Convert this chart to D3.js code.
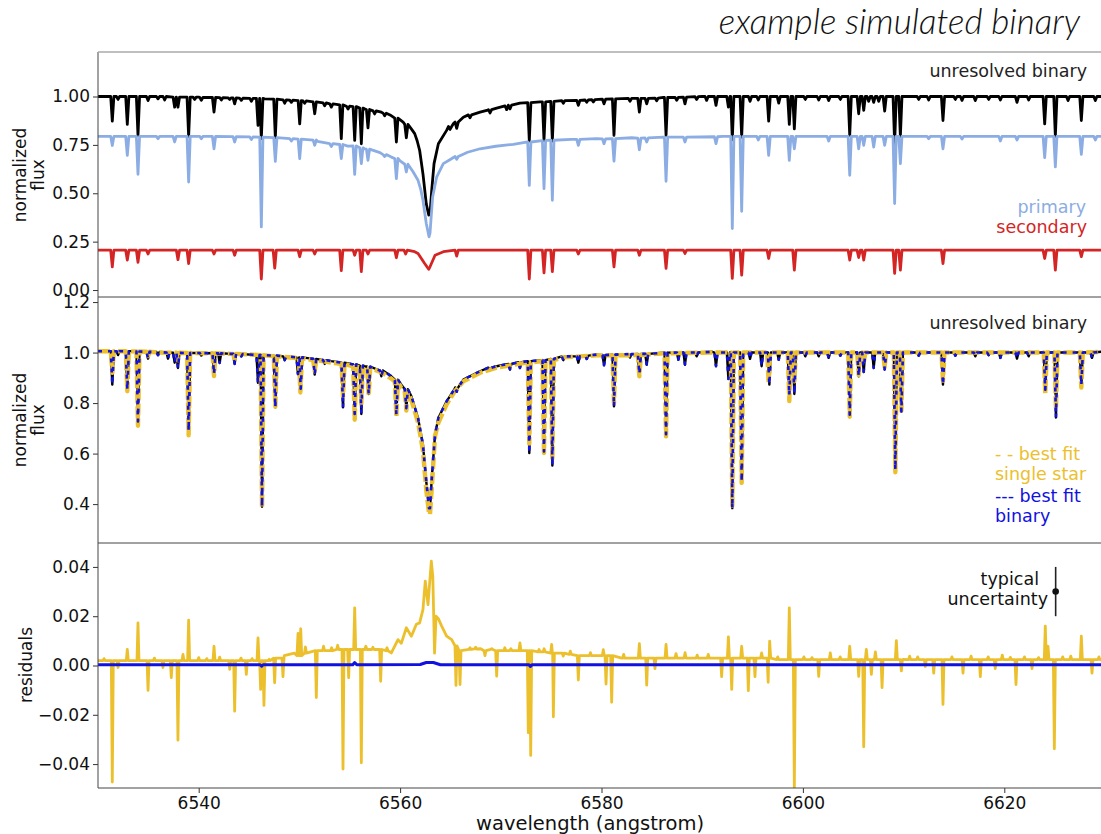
<!DOCTYPE html>
<html>
<head>
<meta charset="utf-8">
<script src="https://cdn.jsdelivr.net/npm/d3@7"></script>
<style>
  body { margin: 0; background: #fff; }
  text { font-family: "DejaVu Sans", sans-serif; }
  .tick text { font-size: 17px; fill: #111; }
  .tick line { stroke: #333; }
  .domain { stroke: none; }
</style>
</head>
<body>
<svg id="chart" width="1101" height="834"></svg>
<script>
// ---- data ------------------------------------------------------------------
// smooth parts: [wavelength, flux]; lines: [wavelength, flux beside line, flux at line bottom]
var blackCont = [[6530,1.0],[6536,1.0],[6540,0.997],[6544,0.992],[6546.55,0.988],[6549.86,0.979],[6553.17,0.962],[6554.8,0.95],[6556.48,0.936],[6557.3,0.928],[6558.14,0.919],[6559.0,0.905],[6559.79,0.885],[6560.3,0.868],[6560.78,0.851],[6561.15,0.83],[6561.45,0.808],[6561.7,0.77],[6561.94,0.722],[6562.27,0.60],[6562.6,0.445],[6562.85,0.387],[6562.97,0.395],[6563.14,0.515],[6563.37,0.653],[6563.8,0.756],[6564.62,0.825],[6565.3,0.86],[6566.28,0.893],[6567.0,0.906],[6567.94,0.919],[6568.7,0.93],[6569.59,0.94],[6570.6,0.953],[6571.9,0.966],[6573.9,0.972],[6576.21,0.979],[6578.5,0.983],[6581.2,0.988],[6586.14,0.996],[6590,1.0],[6630,1.0]];
var blackLines = [[6531.42,1.0,0.873],[6531.99,1.0,0.985],[6532.91,1.0,0.856],[6533.97,1.0,0.799],[6534.97,1.0,0.979],[6535.96,1.0,0.988],[6536.62,1.0,0.982],[6537.61,0.997,0.945],[6537.94,0.997,0.945],[6539.0,0.997,0.794],[6539.6,0.997,0.985],[6540.26,0.996,0.98],[6541.52,0.995,0.919],[6542.25,0.994,0.982],[6543.08,0.993,0.985],[6543.57,0.993,0.962],[6544.23,0.991,0.98],[6545.23,0.99,0.975],[6545.89,0.99,0.851],[6546.22,0.99,0.782],[6547.61,0.986,0.787],[6548.54,0.983,0.965],[6549.2,0.981,0.97],[6550.03,0.979,0.859],[6550.52,0.977,0.965],[6551.52,0.972,0.911],[6552.51,0.967,0.952],[6553.17,0.962,0.945],[6554.16,0.957,0.782],[6554.83,0.95,0.935],[6555.49,0.948,0.773],[6556.15,0.94,0.756],[6556.81,0.933,0.838],[6557.47,0.926,0.91],[6558.47,0.914,0.9],[6559.63,0.888,0.765],[6560.62,0.856,0.787],
  [6564.96,0.845,0.83],[6565.62,0.868,0.835],[6566.94,0.905,0.89],[6568.93,0.932,0.915],[6570.58,0.952,0.932],[6570.91,0.955,0.936],[6572.83,0.968,0.77],[6574.29,0.972,0.773],[6575.12,0.975,0.77],[6576.21,0.979,0.965],[6577.7,0.98,0.954],[6578.53,0.982,0.97],[6579.19,0.984,0.972],[6580.25,0.986,0.962],[6581.24,0.988,0.799],[6582.83,0.99,0.975],[6583.76,0.99,0.919],[6584.49,0.99,0.962],[6585.48,0.992,0.978],[6586.41,0.995,0.799],[6587.47,0.996,0.98],[6588.29,0.997,0.962],[6589.45,0.999,0.985],[6590.44,1.0,0.98],[6591.37,1.0,0.954],[6592.6,1.0,0.945],[6592.99,1.0,0.777],[6593.92,1.0,0.79],[6594.75,1.0,0.975],[6595.57,1.0,0.982],
  [6596.6,1.0,0.873],[6597.6,1.0,0.966],[6598.65,1.0,0.856],[6599.15,1.0,0.833],[6600.24,1.0,0.985],[6601.57,1.0,0.982],[6602.56,1.0,0.979],[6603.72,1.0,0.985],[6604.65,1.0,0.799],[6605.54,1.0,0.911],[6606.04,1.0,0.928],[6606.53,1.0,0.975],[6607.03,1.0,0.97],[6607.53,1.0,0.975],[6608.12,1.0,0.925],[6609.11,1.0,0.756],[6609.68,1.0,0.794],[6611.5,1.0,0.985],[6612.49,1.0,0.982],[6613.91,1.0,0.876],[6615.14,1.0,0.985],[6615.8,1.0,0.98],[6617.12,1.0,0.979],[6618.45,1.0,0.985],[6619.61,1.0,0.982],[6621.26,1.0,0.97],[6622.42,1.0,0.982],[6624.01,1.0,0.859],[6625.07,1.0,0.794],[6626.33,1.0,0.979],[6627.65,1.0,0.876],[6629.04,1.0,0.979]];

var primCont = [[6530,0.794],[6540,0.794],[6546,0.79],[6550,0.78],[6551.8,0.768],[6553.17,0.756],[6554.8,0.744],[6556.48,0.73],[6558.0,0.71],[6559.13,0.687],[6560.0,0.667],[6560.78,0.644],[6561.3,0.61],[6561.78,0.567],[6562.05,0.52],[6562.27,0.464],[6562.6,0.344],[6562.87,0.275],[6562.97,0.294],[6563.23,0.481],[6563.63,0.584],[6564.29,0.653],[6564.9,0.672],[6565.62,0.69],[6566.7,0.712],[6567.94,0.73],[6569.5,0.743],[6571.25,0.753],[6573,0.764],[6574.56,0.773],[6577,0.778],[6579.5,0.782],[6583,0.787],[6586.14,0.79],[6592,0.794],[6630,0.794]];
var primLines = [[6531.42,0.794,0.747],[6532.91,0.794,0.696],[6533.97,0.794,0.598],[6535.96,0.794,0.782],[6537.61,0.794,0.765],[6539.0,0.794,0.558],[6540.26,0.794,0.782],[6541.52,0.794,0.73],[6543.57,0.793,0.765],[6545.23,0.791,0.778],[6546.22,0.79,0.326],[6547.61,0.788,0.665],[6549.2,0.782,0.77],[6550.03,0.78,0.679],[6551.52,0.775,0.748],[6553.17,0.756,0.742],[6554.16,0.752,0.679],[6555.49,0.745,0.598],[6556.15,0.735,0.653],[6556.81,0.728,0.67],[6558.47,0.7,0.69],[6559.63,0.68,0.576],[6560.62,0.65,0.61],
  [6565.62,0.69,0.675],[6572.83,0.765,0.541],[6574.29,0.772,0.524],[6575.12,0.774,0.464],[6577.7,0.778,0.748],[6580.25,0.781,0.756],[6581.24,0.782,0.666],[6583.76,0.785,0.725],[6584.49,0.786,0.765],[6586.41,0.79,0.562],[6588.29,0.79,0.765],[6591.37,0.792,0.756],[6592.99,0.794,0.318],[6593.92,0.794,0.407],[6595.57,0.794,0.775],
  [6596.6,0.794,0.696],[6598.65,0.794,0.67],[6599.15,0.794,0.73],[6602.56,0.794,0.77],[6604.65,0.794,0.593],[6605.54,0.794,0.73],[6606.04,0.794,0.748],[6607.03,0.794,0.739],[6608.12,0.794,0.748],[6609.11,0.794,0.447],[6609.68,0.794,0.653],[6612.49,0.794,0.782],[6613.91,0.794,0.73],[6615.8,0.794,0.78],[6619.61,0.794,0.77],[6621.26,0.794,0.775],[6624.01,0.794,0.684],[6625.07,0.794,0.636],[6627.65,0.794,0.701],[6629.04,0.794,0.775]];

var secCont = [[6530,0.206],[6560,0.206],[6561.45,0.198],[6561.78,0.189],[6562.44,0.137],[6562.84,0.107],[6562.97,0.12],[6563.47,0.18],[6564.3,0.198],[6566,0.206],[6630,0.206]];
var secLines = [[6531.42,0.206,0.12],[6532.91,0.206,0.155],[6533.97,0.206,0.143],[6534.97,0.206,0.186],[6537.94,0.206,0.157],[6539.0,0.206,0.137],[6541.52,0.206,0.186],[6543.57,0.206,0.18],[6546.22,0.206,0.057],[6547.55,0.206,0.113],[6550.03,0.206,0.172],[6551.52,0.206,0.186],[6554.16,0.206,0.1],[6555.49,0.206,0.18],[6556.15,0.206,0.095],[6556.81,0.206,0.186],[6559.63,0.206,0.167],[6560.55,0.206,0.186],
  [6565.62,0.206,0.175],[6572.83,0.206,0.057],[6574.29,0.206,0.089],[6575.12,0.206,0.095],[6577.7,0.206,0.186],[6581.24,0.206,0.12],[6583.76,0.206,0.18],[6586.41,0.206,0.112],[6588.29,0.206,0.189],[6592.99,0.206,0.06],[6593.92,0.206,0.077],
  [6596.6,0.206,0.163],[6599.15,0.206,0.103],[6604.65,0.206,0.155],[6605.54,0.206,0.168],[6606.04,0.206,0.155],[6609.11,0.206,0.086],[6609.68,0.206,0.103],[6613.91,0.206,0.137],[6624.01,0.206,0.163],[6625.07,0.206,0.103],[6627.65,0.206,0.172]];

// middle panel: observed (also best fit binary) and best fit single star
var midCont = [[6530,1.005],[6536,1.0],[6543.24,0.995],[6549.86,0.981],[6553.17,0.966],[6556.48,0.946],[6558.14,0.929],[6559.13,0.906],[6560.12,0.873],[6561.12,0.827],[6561.78,0.741],[6562.27,0.635],[6562.6,0.489],[6562.87,0.384],[6562.97,0.384],[6563.14,0.5],[6563.47,0.675],[6563.8,0.741],[6564.62,0.807],[6565.4,0.855],[6566.28,0.893],[6567.94,0.926],[6569.59,0.946],[6572.9,0.966],[6576.21,0.985],[6579.52,0.992],[6586.14,0.999],[6591,1.003],[6630,1.005]];
var midLines = [[6531.42,1.005,0.873],[6531.99,1.005,0.99],[6532.91,1.005,0.853],[6533.97,1.004,0.727],[6534.97,1.003,0.976],[6535.96,1.002,0.99],[6536.95,1.0,0.976],[6537.61,0.999,0.96],[6537.94,0.999,0.939],[6539.0,0.998,0.69],[6540.26,0.998,0.988],[6541.52,0.997,0.915],[6542.08,0.997,0.959],[6543.57,0.995,0.955],[6544.23,0.994,0.985],[6545.89,0.99,0.88],[6546.29,0.99,0.39],[6547.61,0.988,0.783],[6548.54,0.985,0.97],[6549.86,0.981,0.915],[6550.13,0.981,0.857],[6551.52,0.975,0.913],[6552.51,0.97,0.955],[6554.33,0.96,0.783],[6555.49,0.953,0.757],[6556.15,0.948,0.757],[6556.88,0.944,0.836],[6558.14,0.929,0.906],[6559.63,0.893,0.754],[6560.62,0.855,0.78],
  [6565.62,0.862,0.845],[6568.93,0.94,0.93],[6570.91,0.955,0.933],[6571.9,0.962,0.939],[6572.83,0.966,0.602],[6574.29,0.97,0.608],[6575.12,0.975,0.553],[6576.21,0.985,0.97],[6577.7,0.985,0.96],[6578.53,0.988,0.975],[6580.25,0.99,0.95],[6581.24,0.992,0.787],[6582.83,0.994,0.98],[6583.76,0.995,0.915],[6584.49,0.995,0.952],[6586.41,0.999,0.677],[6587.63,1.0,0.972],[6588.29,1.0,0.952],[6589.45,1.0,0.985],[6591.37,1.0,0.946],[6592.6,1.0,0.896],[6592.99,1.0,0.384],[6593.92,1.0,0.489],[6594.75,1.0,0.975],[6595.9,1.0,0.946],
  [6596.67,1.0,0.873],[6597.6,1.0,0.972],[6598.65,1.0,0.831],[6599.15,1.0,0.836],[6600.24,1.0,0.985],[6601.57,1.0,0.985],[6602.56,1.0,0.979],[6603.72,1.0,0.988],[6604.65,1.0,0.754],[6605.54,1.0,0.906],[6606.04,1.0,0.923],[6607.03,1.0,0.939],[6608.12,1.0,0.933],[6609.18,1.0,0.536],[6609.78,1.0,0.767],[6611.5,1.0,0.988],[6613.91,1.0,0.873],[6615.14,1.0,0.988],[6617.12,1.0,0.985],[6618.45,1.0,0.99],[6619.61,1.0,0.979],[6621.26,1.0,0.976],[6622.42,1.0,0.985],[6624.07,1.0,0.853],[6625.13,1.0,0.743],[6627.65,1.0,0.873],[6628.71,1.0,0.979]];
var singleCont = [[6530,1.005],[6536,1.0],[6543.24,0.995],[6549.86,0.978],[6553.17,0.96],[6556.48,0.94],[6558.14,0.922],[6559.13,0.897],[6560.12,0.86],[6561.12,0.812],[6561.78,0.724],[6562.27,0.612],[6562.6,0.455],[6562.87,0.364],[6562.97,0.36],[6563.14,0.46],[6563.47,0.67],[6563.8,0.722],[6564.62,0.795],[6565.4,0.845],[6566.28,0.886],[6567.94,0.92],[6569.59,0.94],[6572.9,0.961],[6576.21,0.981],[6579.52,0.989],[6586.14,0.997],[6591,1.0],[6630,1.003]];
var singleLines = [[6531.42,1.005,0.92],[6532.91,1.005,0.847],[6533.97,1.004,0.71],[6534.97,1.003,0.986],[6537.94,0.999,0.969],[6539.0,0.998,0.672],[6541.52,0.997,0.907],[6543.57,0.995,0.974],[6546.29,0.99,0.385],[6547.61,0.985,0.786],[6550.1,0.978,0.842],[6551.52,0.97,0.926],[6554.33,0.955,0.825],[6555.49,0.945,0.734],[6556.15,0.942,0.797],[6556.88,0.938,0.83],[6559.63,0.885,0.745],[6560.62,0.845,0.77],
  [6572.83,0.961,0.638],[6574.29,0.966,0.602],[6575.12,0.97,0.574],[6581.24,0.989,0.8],[6583.76,0.99,0.906],[6586.41,0.997,0.668],[6592.99,1.0,0.394],[6593.92,1.0,0.484],
  [6596.6,1.0,0.88],[6598.65,1.0,0.808],[6599.15,1.0,0.886],[6604.65,1.0,0.746],[6605.54,1.0,0.911],[6606.04,1.0,0.956],[6608.12,1.0,0.942],[6609.18,1.0,0.526],[6609.78,1.0,0.77],[6613.91,1.0,0.889],[6624.07,1.0,0.837],[6625.13,1.0,0.777],[6627.65,1.0,0.861]];

// residuals
var resSingleCont = [[6530,0.002],[6540,0.002],[6542,0.0025],[6546,0.002],[6548.5,0.004],[6549.5,0.005],[6552,0.006],[6554,0.0065],[6558,0.0065],[6559.13,0.0051],[6559.79,0.0105],[6560.12,0.009],[6560.62,0.0153],[6561.12,0.0119],[6561.61,0.0167],[6561.94,0.0173],[6562.27,0.0227],[6562.5,0.0342],[6562.77,0.0247],[6563.1,0.0423],[6563.25,0.036],[6563.42,0.005],[6563.57,0.02],[6563.8,0.019],[6564.13,0.016],[6564.62,0.0119],[6565.12,0.0105],[6566,0.006],[6567,0.0065],[6568,0.0068],[6570,0.006],[6572,0.006],[6575,0.005],[6578,0.004],[6582,0.003],[6587,0.003],[6592,0.0035],[6600,0.0025],[6610,0.0025],[6620,0.0025],[6630,0.002]];
var resSingleSpikes = [[6530.6,0.002,0.0028],[6531.42,0.002,-0.0473],[6531.99,0.002,-0.0008],[6532.91,0.002,0.0065],[6533.97,0.002,0.0173],[6534.97,0.002,-0.0101],[6535.6,0.002,0.003],[6536.45,0.002,-0.0008],[6537.28,0.002,-0.0049],[6537.94,0.002,-0.0303],[6538.44,0.002,0.0045],[6539.0,0.002,0.0184],[6540.0,0.002,0.0032],[6540.8,0.002,0.0028],[6541.52,0.002,0.0078],[6542.08,0.002,0.0034],[6543.08,0.002,-0.0016],[6543.57,0.002,-0.0185],[6544.2,0.002,0.003],[6544.73,0.002,-0.0036],[6545.3,0.002,0.0028],[6545.89,0.002,0.0112],[6546.15,0.002,-0.0097],[6546.48,0.002,-0.0162],[6547.0,0.002,0.0025],[6547.54,0.003,-0.007],[6548.37,0.003,-0.0045],[6549.86,0.004,0.013],[6550.13,0.004,0.0149],[6550.6,0.005,0.0075],[6551.68,0.006,-0.013],[6552.4,0.006,0.0078],[6553.2,0.006,0.0072],[6553.8,0.0065,0.0082],[6554.33,0.0065,-0.042],[6554.89,0.0065,-0.005],[6555.49,0.0065,0.0234],[6556.15,0.0065,-0.0395],[6556.6,0.0065,0.0078],[6557.3,0.0065,0.0074],[6558.07,0.0065,-0.0064],[6558.7,0.006,0.0072],
  [6565.55,0.008,-0.0081],[6565.95,0.006,-0.0077],[6566.94,0.0065,0.0072],[6567.5,0.0067,0.0074],[6568.43,0.006,0.004],[6569.1,0.0065,0.0068],[6569.59,0.006,-0.0043],[6570.4,0.006,0.0072],[6571.0,0.006,0.0068],[6571.9,0.006,0.0092],[6572.73,0.006,-0.0273],[6572.97,0.006,-0.0365],[6573.8,0.0055,0.0065],[6574.3,0.0055,0.0068],[6575.05,0.005,0.0086],[6575.22,0.005,-0.0208],[6576.2,0.005,0.0038],[6576.9,0.0045,0.0058],[6577.7,0.004,-0.0059],[6578.9,0.004,0.0052],[6580.18,0.004,0.0064],[6580.45,0.004,-0.0075],[6581.01,0.004,-0.0149],[6582.2,0.003,0.0045],[6583.76,0.003,0.0089],[6584.49,0.003,-0.008],[6585.31,0.003,-0.0013],[6586.41,0.003,0.0086],[6587.4,0.003,0.0048],[6588.3,0.003,0.0052],[6589.5,0.003,0.0042],[6590.6,0.003,0.0045],[6591.93,0.003,-0.0045],[6592.6,0.003,0.0116],[6592.93,0.003,-0.0097],[6593.92,0.003,0.0078],[6594.58,0.003,-0.0102],[6595.24,0.003,-0.0045],[6595.9,0.003,0.0051],
  [6596.55,0.003,-0.0068],[6596.7,0.003,0.0099],[6597.5,0.0024,0.0035],[6598.65,0.0024,0.0234],[6599.15,0.0024,-0.0495],[6600.1,0.0024,0.0035],[6600.9,0.0024,0.0032],[6601.57,0.0024,-0.0044],[6602.72,0.0024,0.0051],[6603.7,0.0024,0.0035],[6604.65,0.0024,0.0078],[6605.54,0.0024,-0.0044],[6606.04,0.0024,-0.033],[6606.3,0.0024,0.0065],[6606.8,0.0024,-0.0036],[6607.2,0.0024,0.0055],[6607.86,0.0024,-0.009],[6609.28,0.0024,0.0101],[6609.78,0.0024,-0.0022],[6610.6,0.0024,0.0038],[6611.4,0.0024,0.0035],[6612.16,0.0024,-0.0004],[6612.99,0.0024,-0.0031],[6613.91,0.0024,-0.0158],[6614.8,0.0024,0.0035],[6615.9,0.0024,-0.0031],[6616.7,0.0024,0.0038],[6617.62,0.0024,-0.0045],[6618.4,0.0024,0.0035],[6619.1,0.0024,-0.0013],[6619.8,0.0024,0.0042],[6620.6,0.0024,0.0033],[6621.16,0.0024,-0.0077],[6622.0,0.0024,0.0035],[6622.75,0.0024,-0.0013],[6623.4,0.0024,0.0032],[6624.07,0.0024,0.016],[6624.34,0.0024,0.0078],[6624.97,0.0024,-0.0338],[6625.8,0.0024,0.0035],[6626.6,0.0024,0.0038],[6627.65,0.0024,0.0119],[6628.71,0.0024,-0.0031],[6629.4,0.0024,0.0035]];
var resBinary = [[6530,0.0003],[6546.1,0.0003],[6546.25,-0.0003],[6546.4,0.0003],[6555.3,0.0003],[6555.49,0.0012],[6555.7,0.0003],[6562.0,0.0004],[6562.6,0.0012],[6563.3,0.0012],[6564,0.0003],[6572.8,0.0003],[6572.95,-0.0004],[6573.1,0.0003],[6630,0.0003]];

var uncertainty = {wl: 6625.1, value: 0.03, err: 0.01};

var yTicksTop = [0, 0.25, 0.5, 0.75, 1.0];
var yTicksMid = [0.4, 0.6, 0.8, 1.0, 1.2];
var yTicksRes = [-0.04, -0.02, 0, 0.02, 0.04];
var xTicks = [6540, 6560, 6580, 6600, 6620];

// ---- drawing ----------------------------------------------------------------
var svg = d3.select("#chart");
var x = d3.scaleLinear().domain([6530, 6630]).range([98, 1105]);

var panels = [
  {top: 52, bottom: 297, domain: [-0.036, 1.23], ticks: yTicksTop, fmt: ".2f"},
  {top: 297, bottom: 543, domain: [0.246, 1.22], ticks: yTicksMid, fmt: ".1f"},
  {top: 543, bottom: 788, domain: [-0.0497, 0.0497], ticks: yTicksRes, fmt: ".2f"}
];

panels.forEach(function(p, i) {
  p.y = d3.scaleLinear().domain(p.domain).range([p.bottom, p.top]);
  svg.append("clipPath").attr("id", "clip" + i)
    .append("rect").attr("x", 98).attr("y", p.top).attr("width", 1010).attr("height", p.bottom - p.top);
  p.g = svg.append("g").attr("clip-path", "url(#clip" + i + ")");
  svg.append("g")
    .attr("transform", "translate(98,0)")
    .call(d3.axisLeft(p.y).tickValues(p.ticks).tickFormat(d3.format(p.fmt)).tickSize(5).tickPadding(3));
});

// merge smooth points and absorption lines into one sorted polyline
function spectrum(cont, lines, hw) {
  var pts = [];
  lines.forEach(function(l) {
    pts.push([l[0] - hw, l[1]], [l[0], l[2]], [l[0] + hw, l[1]]);
  });
  cont.forEach(function(c) {
    if (!lines.some(function(l) { return Math.abs(l[0] - c[0]) < hw * 1.3; })) pts.push(c);
  });
  return pts.sort(function(a, b) { return a[0] - b[0]; });
}

function draw(p, pts, color, width, dash) {
  var line = d3.line().x(function(d) { return x(d[0]); }).y(function(d) { return p.y(d[1]); });
  p.g.append("path").datum(pts)
    .attr("d", line)
    .attr("fill", "none")
    .attr("stroke", color)
    .attr("stroke-width", width)
    .attr("stroke-linejoin", "round")
    .attr("stroke-dasharray", dash || null);
}

var cBlack = "#000", cPrim = "#8badE3", cSec = "#d42424", cYel = "#ecc02c", cBlue = "#1111e0";

// top panel
draw(panels[0], spectrum(blackCont, blackLines, 0.16), cBlack, 2.8);
draw(panels[0], spectrum(primCont, primLines, 0.16), cPrim, 2.8);
draw(panels[0], spectrum(secCont, secLines, 0.16), cSec, 2.8);

// middle panel
draw(panels[1], spectrum(midCont, midLines, 0.15), cBlack, 2.4);
draw(panels[1], spectrum(singleCont, singleLines, 0.15), cYel, 4.4, "12,3");
draw(panels[1], spectrum(midCont, midLines, 0.15), cBlue, 2.6, "4,6");

// residual panel
draw(panels[2], spectrum(resSingleCont, resSingleSpikes, 0.1), cYel, 2.8);
draw(panels[2], resBinary, cBlue, 3);

var pr = panels[2];
svg.append("line")
  .attr("x1", x(uncertainty.wl)).attr("x2", x(uncertainty.wl))
  .attr("y1", pr.y(uncertainty.value + uncertainty.err)).attr("y2", pr.y(uncertainty.value - uncertainty.err))
  .attr("stroke", "#222").attr("stroke-width", 1.6);
svg.append("circle")
  .attr("cx", x(uncertainty.wl)).attr("cy", pr.y(uncertainty.value)).attr("r", 3.3).attr("fill", "#111");

// x axis
svg.append("g")
  .attr("transform", "translate(0,788)")
  .call(d3.axisBottom(x).tickValues(xTicks).tickFormat(d3.format("d")).tickSize(5).tickPadding(4));

// frames
panels.forEach(function(p, i) {
  svg.append("line").attr("x1", 98).attr("x2", 98).attr("y1", p.top).attr("y2", p.bottom)
    .attr("stroke", "#444").attr("stroke-width", 1);
  svg.append("line").attr("x1", 98).attr("x2", 1101).attr("y1", p.bottom).attr("y2", p.bottom)
    .attr("stroke", "#444").attr("stroke-width", 1);
});
svg.append("line").attr("x1", 98).attr("x2", 1101).attr("y1", 52).attr("y2", 52)
  .attr("stroke", "#aaa").attr("stroke-width", 1.5);

// labels
function txt(t, xx, yy, anchor, color, size, extra) {
  var s = svg.append("text").attr("x", xx).attr("y", yy).attr("text-anchor", anchor)
    .attr("fill", color).attr("font-size", size).text(t);
  if (extra) extra(s);
  return s;
}
txt("example simulated binary", 1080, 34, "end", "#111", 35, function(s) {
  s.style("font-family", "Lato, sans-serif").style("font-style", "italic").style("font-weight", 300);
});
txt("unresolved binary", 1087, 77, "end", "#222", 17.5);
txt("primary", 1086, 213, "end", cPrim, 17.5);
txt("secondary", 1087, 233, "end", cSec, 17.5);
txt("unresolved binary", 1087, 329, "end", "#222", 17.5);
txt("- - best fit", 995, 460, "start", cYel, 17.5);
txt("single star", 995, 480, "start", cYel, 17.5);
txt("--- best fit", 995, 502, "start", cBlue, 17.5);
txt("binary", 995, 522, "start", cBlue, 17.5);
txt("typical", 1039, 585, "end", "#111", 17.5);
txt("uncertainty", 1048, 605, "end", "#111", 17.5);
txt("wavelength (angstrom)", 590, 830, "middle", "#111", 19.5);

function ylab(lines, cx, cy) {
  var t = svg.append("text").attr("transform", "translate(" + cx + "," + cy + ") rotate(-90)")
    .attr("text-anchor", "middle").attr("fill", "#111").attr("font-size", 17);
  lines.forEach(function(l, i) {
    t.append("tspan").attr("x", 0).attr("dy", i === 0 ? 0 : 18).text(l);
  });
}
ylab(["normalized", "flux"], 26, 175);
ylab(["normalized", "flux"], 26, 420);
ylab(["residuals"], 32, 665);
</script>
</body>
</html>
